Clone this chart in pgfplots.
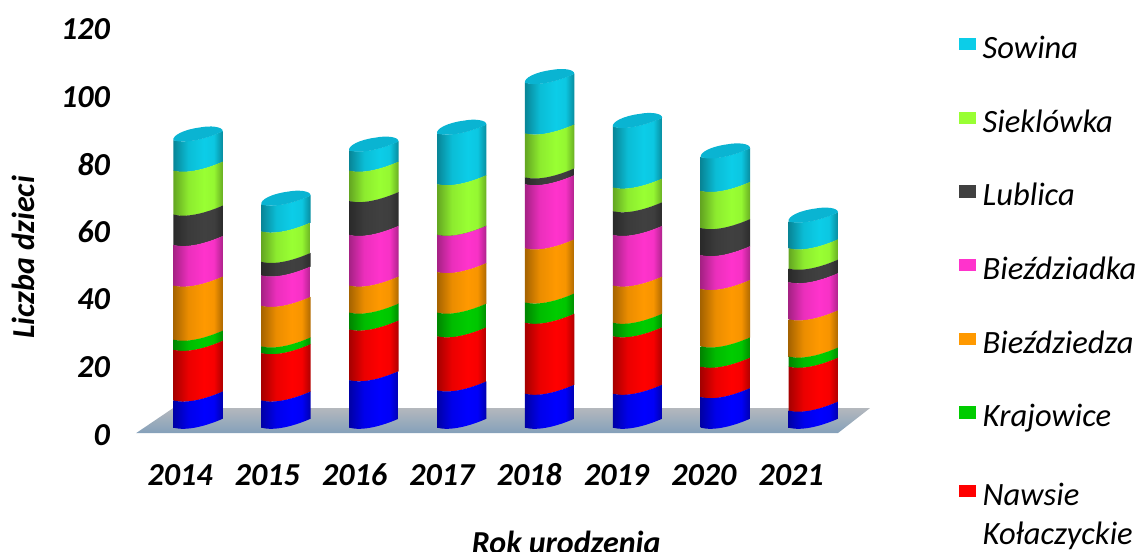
\documentclass[border=0pt]{standalone}
\usepackage{fontspec}
\setmainfont{Carlito}
\usepackage{pgfplots}
\usepackage{pgfplotstable}
\pgfplotsset{compat=1.18}

\definecolor{cblue}{HTML}{0000FF}
\definecolor{cred}{HTML}{FF0000}
\definecolor{cgreen}{HTML}{00CC00}
\definecolor{corange}{HTML}{FF9900}
\definecolor{cpink}{HTML}{FF33CC}
\definecolor{cdark}{HTML}{404040}
\definecolor{clime}{HTML}{99FF33}
\definecolor{ccyan}{HTML}{0CCDE8}
\definecolor{ccap}{HTML}{0AB4D2}
\definecolor{floortop}{HTML}{B4B8BD}
\definecolor{floorbot}{HTML}{84A0BA}

% side shading of a cylinder, brightest right of the middle
\def\cylshade#1{\pgfdeclarehorizontalshading{cyl#1}{100bp}{%
  color(0bp)=(#1!65!black); color(25bp)=(#1!65!black);
  color(40bp)=(#1!92!black); color(56bp)=(#1); color(66bp)=(#1!97!black);
  color(75bp)=(#1!68!black); color(100bp)=(#1!68!black)}}
\cylshade{cblue}\cylshade{cred}\cylshade{cgreen}\cylshade{corange}
\cylshade{cpink}\cylshade{cdark}\cylshade{clime}\cylshade{ccyan}

\pgfdeclareplotmark{nothing}{}

\pgfplotstableread{
x cblue cred cgreen corange cpink cdark clime ccyan
0  8 15 3 16 12  9 13  9
1  8 14 2 12  9  4  9  8
2 14 15 5  8 15 10  9  6
3 11 16 7 12 11  0 15 15
4 10 21 6 16 19  2 13 15
5 10 17 4 11 15  7  7 18
6  9  9 6 17 10  8 11 10
7  5 13 3 11 11  4  6  8
}\births

% one drum of a column, drawn with its top left corner at the data point
% the segment value arrives as point meta (meta range 0..1000, so it is unchanged)
\newcommand\cylseg[1]{%
  \pgfmathsetmacro\segh{\pgfplotspointmetatransformed*3.38}%
  \shade[draw=none,x=0.75pt,y=0.75pt,shading=cyl#1]
    (-24.7,0.2) .. controls (-10.7,-3.3) and (8.7,2.2) .. (24.7,9.2)
    -- (24.7,9-\segh) .. controls (8.7,2-\segh) and (-10.7,-3.5-\segh) .. (-24.7,-\segh) -- cycle;}
\newcommand\cylcap{%
  \fill[draw=none,x=0.75pt,y=0.75pt,ccap]
    (-24.7,0) .. controls (-10.7,-3.5) and (8.7,2) .. (24.7,9)
    .. controls (25,14) and (12,15) .. (2,13) .. controls (-14,11) and (-26,5) .. (-24.7,0) -- cycle;}

% even row pitch in the legend
\newcommand\lgrow{\rule[-6pt]{0pt}{24pt}}

\pgfplotsset{
  cyl/.style={only marks, mark=nothing, scatter, point meta=explicit,
    scatter/@pre marker code/.code={\cylseg{#1}},
    scatter/@post marker code/.code={},
    legend image code/.code={\fill[draw=none,#1] (0,2pt) rectangle (13.5pt,15.5pt);}},
  cylcap/.style={only marks, mark=nothing, scatter, point meta=explicit,
    scatter/@pre marker code/.code={\cylseg{#1}\cylcap},
    scatter/@post marker code/.code={},
    legend image code/.code={\fill[draw=none,#1] (0,2pt) rectangle (13.5pt,15.5pt);}},
}

\begin{document}
\begin{tikzpicture}
\useasboundingbox (0,0) rectangle (854.25pt,414pt);
\begin{axis}[
    at={(102.4pt,93.2pt)}, anchor=south west,
    scale only axis, width=553.7pt, height=304.2pt,
    xmin=-0.7, xmax=7.7, ymin=0, ymax=120,
    point meta min=0, point meta max=1000,
    clip=false, stack plots=y,
    axis line style={draw=none}, major tick length=0pt,
    xtick={0,...,7},
    xticklabels={2014,2015,2016,2017,2018,2019,2020,2021},
    ytick={0,20,40,60,80,100,120},
    /pgf/number format/assume math mode=true,
    ticklabel style={font=\fontsize{24}{28}\selectfont\bfseries\itshape},
    xticklabel style={xshift=-13.5pt-\ticknum*0.45pt, yshift=-23.5pt, text height=16pt, text depth=0pt},
    yticklabel style={yshift=-5.2pt, xshift=-16.5pt},
    xlabel={Rok urodzenia}, ylabel={Liczba dzieci},
    label style={font=\fontsize{24}{28}\selectfont\bfseries\itshape},
    xlabel style={at={(rel axis cs:0.582,0)}, anchor=base, yshift=-94.5pt},
    ylabel style={at={(rel axis cs:0,0.42)}, anchor=base, yshift=76.5pt},
    reverse legend,
    legend cell align=left,
    legend style={at={(axis description cs:1.113,0.970)}, anchor=north west,
      draw=none, fill=none, inner sep=0pt, column sep=0pt,
      font=\fontsize{24.4}{29}\selectfont\itshape, row sep=35.75pt,
      legend columns=1,
      nodes={anchor=base west, inner xsep=5pt, inner ysep=0pt}},
  ]
  % floor
  \addplot[forget plot, stack plots=false, draw=none, shade, top color=floortop, bottom color=floorbot]
    coordinates {(-0.705,-1.6) (-0.284,5.8) (7.645,5.8) (7.28,-1.6)} -- cycle;

  \addplot[forget plot, cyl=cblue] table[x=x, y=cblue, meta=cblue] {\births};
  \addplot[cyl=cred] table[x=x, y=cred, meta=cred] {\births};
  \addlegendentry{\vtop{\hbox{\rule{0pt}{21.75pt}Nawsie}\hbox{Kołaczyckie}}}
  \addplot[cyl=cgreen] table[x=x, y=cgreen, meta=cgreen] {\births};
  \addlegendentry{\lgrow Krajowice}
  \addplot[cyl=corange] table[x=x, y=corange, meta=corange] {\births};
  \addlegendentry{\lgrow Bieździedza}
  \addplot[cyl=cpink] table[x=x, y=cpink, meta=cpink] {\births};
  \addlegendentry{\lgrow Bieździadka}
  \addplot[cyl=cdark] table[x=x, y=cdark, meta=cdark] {\births};
  \addlegendentry{\lgrow Lublica}
  \addplot[cyl=clime] table[x=x, y=clime, meta=clime] {\births};
  \addlegendentry{\lgrow Sieklówka}
  \addplot[cylcap=ccyan] table[x=x, y=ccyan, meta=ccyan] {\births};
  \addlegendentry{\lgrow Sowina}
\end{axis}
\end{tikzpicture}
\end{document}
